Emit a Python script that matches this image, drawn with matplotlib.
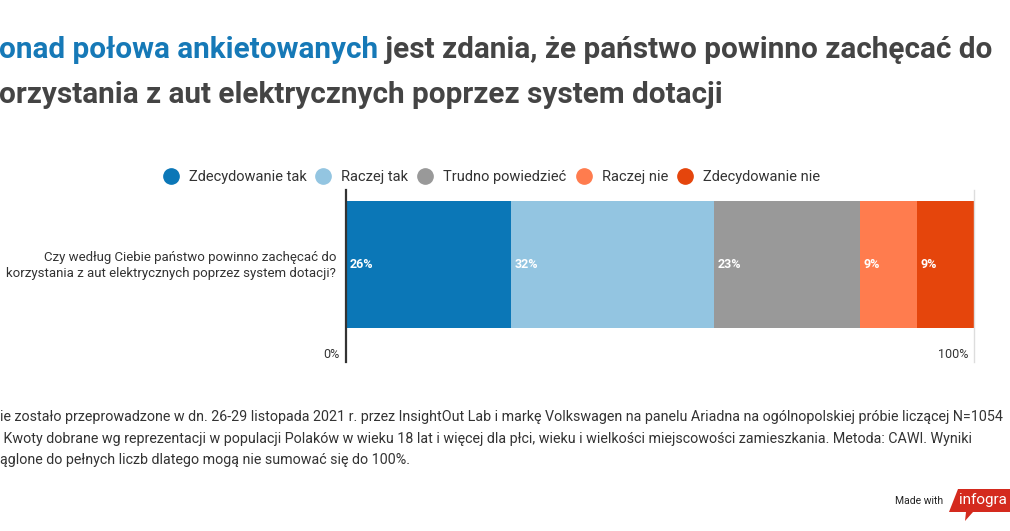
import matplotlib
matplotlib.use("Agg")
import matplotlib.pyplot as plt
import matplotlib.transforms as mtransforms
from matplotlib.patches import Polygon
from matplotlib.lines import Line2D

# ---- data ----
categories = ["Zdecydowanie tak", "Raczej tak", "Trudno powiedzieć", "Raczej nie", "Zdecydowanie nie"]
values = [26, 32, 23, 9, 9]
colors = ["#0b77b7", "#93c5e1", "#999999", "#ff7c4e", "#e5450c"]
question = "Czy według Ciebie państwo powinno zachęcać do\nkorzystania z aut elektrycznych poprzez system dotacji?"
tick_labels = ["0%", "100%"]

title_blue = "onad połowa ankietowanych"
title_rest1 = " jest zdania, że państwo powinno zachęcać do"
title_line2 = "orzystania z aut elektrycznych poprzez system dotacji"
footer_lines = [
    "ie zostało przeprowadzone w dn. 26-29 listopada 2021 r. przez InsightOut Lab i markę Volkswagen na panelu Ariadna na ogólnopolskiej próbie liczącej N=1054",
    " Kwoty dobrane wg reprezentacji w populacji Polaków w wieku 18 lat i więcej dla płci, wieku i wielkości miejscowości zamieszkania. Metoda: CAWI. Wyniki",
    "ąglone do pełnych liczb dlatego mogą nie sumować się do 100%.",
]

plt.rcParams['font.family'] = ['Roboto', 'DejaVu Sans']

W, H = 1010, 531
fig = plt.figure(figsize=(W / 100, H / 100), dpi=100)
fig.patch.set_facecolor("white")

bg = fig.add_axes([0, 0, 1, 1])
bg.set_xlim(0, W)
bg.set_ylim(H, 0)
bg.axis("off")

TXT = "#333333"
TITLE_GRAY = "#444444"
TITLE_BLUE = "#1679b7"

# ---- title ----
t1 = bg.text(-1, 58, title_blue, color=TITLE_BLUE, fontsize=21.4, fontweight="bold",
             ha="left", va="baseline")
bg.annotate(title_rest1, xy=(1, 0), xycoords=t1, color=TITLE_GRAY, fontsize=21.4,
            fontweight="bold", ha="left", va="bottom")
bg.text(-1, 103, title_line2, color=TITLE_GRAY, fontsize=21.4, fontweight="bold",
        ha="left", va="baseline")

# ---- bar axes ----
ax = fig.add_axes([346 / W, 1 - 362 / H, (974 - 346) / W, 172 / H])
total = sum(values)
left = 0
for v, c, cat in zip(values, colors, categories):
    ax.barh(0, v, left=left, height=0.8, color=c, label=cat, linewidth=0)
    ax.annotate(f"{v}%", xy=(left, 0), xytext=(4, 0), textcoords="offset pixels",
                color="white", fontsize=9, fontweight="bold", ha="left", va="center")
    left += v
ax.set_xlim(0, total)
ax.set_ylim(-0.614, 0.4695)
ax.set_xticks([])
ax.set_yticks([])
for s in ["top", "bottom"]:
    ax.spines[s].set_visible(False)
ax.spines["left"].set_color("#333333")
ax.spines["left"].set_linewidth(1.6)
ax.spines["right"].set_color("#dddddd")
ax.spines["right"].set_linewidth(1.0)

trans = mtransforms.blended_transform_factory(ax.transData, ax.transAxes)
for pos, lab in zip([0, total], tick_labels):
    tr = mtransforms.offset_copy(trans, fig=fig, x=-6, y=0, units="dots")
    ax.text(pos, 8 / 172, lab, transform=tr, ha="right", va="center",
            fontsize=9, color=TXT)

# question label
bg.text(336, 265, question, ha="right", va="center", multialignment="right",
        fontsize=9.5, color=TXT, linespacing=1.3)

# ---- legend ----
handles = [Line2D([], [], marker="o", linestyle="none", markersize=11,
                  markerfacecolor=c, markeredgecolor=c) for c in colors]
fig.legend(handles, categories, loc="center", bbox_to_anchor=(491 / W, 1 - 177 / H),
           ncol=5, frameon=False, fontsize=10.5, handlelength=1.2, handletextpad=0.65,
           columnspacing=0.55, labelcolor=TXT, borderaxespad=0, borderpad=0)

# ---- footer ----
for i, line in enumerate(footer_lines):
    bg.text(0, 421 + 21.5 * i, line, ha="left", va="baseline", fontsize=10.25, color=TXT)

# ---- made with infogram ----
bg.text(943, 501, "Made with", ha="right", va="center", fontsize=7.5, color="#222222")
bg.add_patch(Polygon([(958, 489), (1010, 489), (1010, 512), (973, 512), (965, 521),
                      (966, 512), (949, 512)], closed=True, facecolor="#d42a1e",
                     edgecolor="none"))
bg.text(959, 500, "infogra", ha="left", va="center", fontsize=11, color="white")

fig.savefig("out.png", dpi=100)
